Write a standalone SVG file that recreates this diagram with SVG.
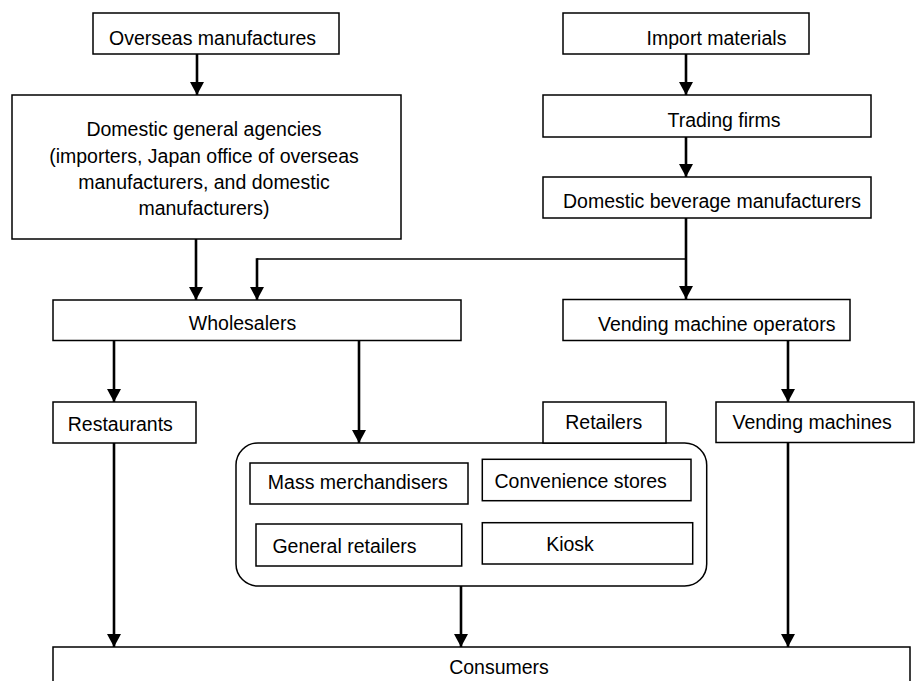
<svg xmlns="http://www.w3.org/2000/svg" width="915" height="681" viewBox="0 0 915 681">
<defs>
<marker id="ah" markerUnits="userSpaceOnUse" markerWidth="14" markerHeight="14" viewBox="0 0 14 14" refX="13" refY="7" orient="auto">
<path d="M0,0 L13,7 L0,14 Z" fill="#000"/>
</marker>
<style>
.box{fill:#fff;stroke:#000;stroke-width:1.5}
.t{font-family:"Liberation Sans",Arial,sans-serif;font-size:19.5px;fill:#000;text-anchor:middle}
.arr{fill:none;stroke:#000;stroke-width:2.6;marker-end:url(#ah)}
.thin{fill:none;stroke:#000;stroke-width:1.6}
</style>
</defs>
<rect width="915" height="681" fill="#fff"/>
<g id="connectors">
<path class="arr" d="M197,54 V95"/>
<path class="arr" d="M686,54 V95"/>
<path class="arr" d="M686,137 V177"/>
<path class="arr" d="M686,218 V299"/>
<path class="thin" d="M686,259 H257"/>
<path class="arr" d="M257,258.2 V300"/>
<path class="arr" d="M196,239 V300"/>
<path class="arr" d="M114,340.5 V402"/>
<path class="arr" d="M359,340.5 V443"/>
<path class="arr" d="M788,340.5 V402"/>
<path class="arr" d="M114,443 V647"/>
<path class="arr" d="M461,586 V647"/>
<path class="arr" d="M788,443 V647"/>
</g>
<g id="overseas">
<rect class="box" x="93" y="13" width="246" height="41"/>
<text class="t" x="212.5" y="45">Overseas manufactures</text>
</g>
<g id="agencies">
<rect class="box" x="12" y="95" width="389" height="144"/>
<text class="t" x="204" y="136">Domestic general agencies</text>
<text class="t" x="204" y="162.5">(importers, Japan office of overseas</text>
<text class="t" x="204" y="188.5">manufacturers, and domestic</text>
<text class="t" x="204" y="214.5">manufacturers)</text>
</g>
<g id="import">
<rect class="box" x="563" y="13" width="246" height="41"/>
<text class="t" x="716.5" y="45">Import materials</text>
</g>
<g id="trading">
<rect class="box" x="543" y="95" width="328" height="42"/>
<text class="t" x="724" y="126.5">Trading firms</text>
</g>
<g id="beverage">
<rect class="box" x="543" y="177" width="328" height="41"/>
<text class="t" x="712" y="208.3">Domestic beverage manufacturers</text>
</g>
<g id="wholesalers">
<rect class="box" x="53" y="300" width="408" height="40.5"/>
<text class="t" x="242.5" y="330">Wholesalers</text>
</g>
<g id="operators">
<rect class="box" x="563" y="299.5" width="287" height="41"/>
<text class="t" x="716.7" y="330.7">Vending machine operators</text>
</g>
<g id="restaurants">
<rect class="box" x="53" y="402" width="143" height="41"/>
<text class="t" x="120.3" y="430.7">Restaurants</text>
</g>
<g id="retailers">
<rect class="box" x="236" y="443" width="470.7" height="143" rx="22" ry="22"/>
<rect class="box" x="543" y="402" width="123" height="41"/>
<text class="t" x="603.7" y="429">Retailers</text>
<g id="mass">
<rect class="box" x="250" y="463" width="218" height="41"/>
<text class="t" x="357.8" y="489">Mass merchandisers</text>
</g>
<g id="convenience">
<rect class="box" x="482.3" y="459.3" width="208.7" height="41.4"/>
<text class="t" x="580.7" y="488.3">Convenience stores</text>
</g>
<g id="general">
<rect class="box" x="256" y="524" width="205.7" height="42"/>
<text class="t" x="344.5" y="553.3">General retailers</text>
</g>
<g id="kiosk">
<rect class="box" x="482.3" y="522.7" width="210.4" height="41.3"/>
<text class="t" x="570" y="550.7">Kiosk</text>
</g>
</g>
<g id="vending">
<rect class="box" x="716" y="402" width="198" height="40.5"/>
<text class="t" x="812.2" y="429">Vending machines</text>
</g>
<g id="consumers">
<rect class="box" x="53" y="647" width="857" height="50"/>
<text class="t" x="499" y="674">Consumers</text>
</g>
</svg>
